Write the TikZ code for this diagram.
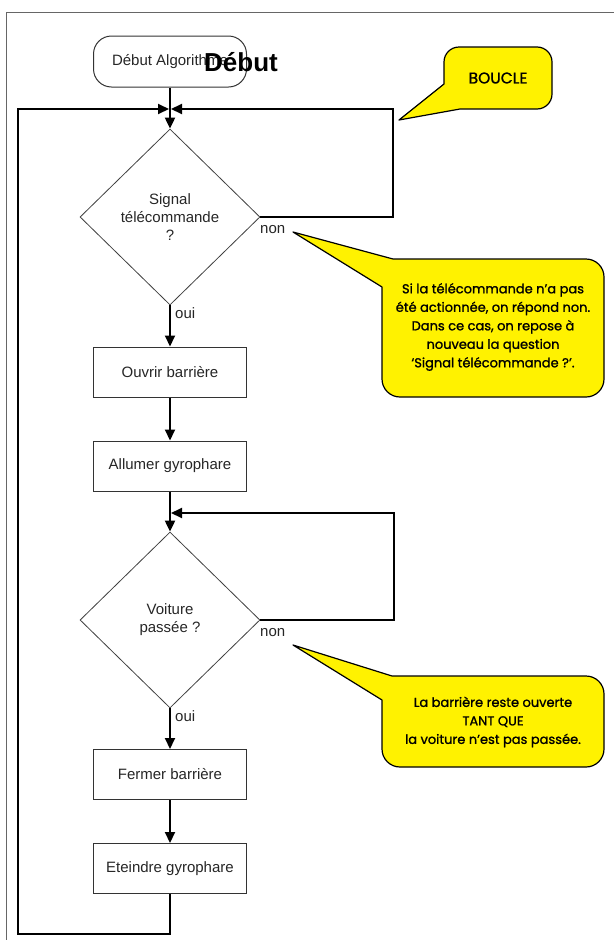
\documentclass[tikz,border=0pt]{standalone}
\usepackage{fontspec}
\setmainfont{Liberation Sans}
\newfontfamily\futura{Poppins}[FakeBold=1.2]
\usetikzlibrary{shapes.geometric,arrows.meta}
\begin{document}
\begin{tikzpicture}[x=1pt,y=-1pt,
  txt/.style={font=\fontsize{15}{18}\selectfont, text=black!85},
  procbox/.style={txt, draw=black!80, line width=1pt, fill=white, minimum width=153pt, minimum height=50pt, inner sep=0pt},
  startbox/.style={txt, draw=black!80, line width=1pt, fill=white, rounded corners=18pt, minimum width=153pt, minimum height=51pt, inner sep=0pt},
  decision/.style={txt, diamond, draw=black!75, line width=0.8pt, minimum width=180pt, minimum height=176pt, inner sep=0pt, align=center},
  conn/.style={line width=2pt, -{Triangle[length=11pt,width=10pt]}},
  bubble/.style={draw=black, line width=1.2pt, fill=yellow, line join=round},
  bubbletext/.style={font=\futura\fontsize{13}{18.5}\selectfont, align=center},
  lbl/.style={txt, inner sep=0pt}
]
\useasboundingbox (0,0) rectangle (614,940);
% frame
\draw[black!60, line width=0.8pt] (6.7,940) -- (6.7,12) -- (614,12);

% nodes
\node[startbox] (start) at (170,61.5) {Début Algorithme};
\node[font=\bfseries\fontsize{26}{30}\selectfont, inner sep=0pt] (debut) at (241,62) {Début};
\node[decision] (d1) at (170,217) {Signal\\télécommande\\?};
\node[procbox] (ouvrir) at (170,372) {Ouvrir barrière};
\node[procbox] (allumer) at (170,466) {Allumer gyrophare};
\node[decision] (d2) at (170,620) {Voiture\\passée ?};
\node[procbox] (fermer) at (170,774.5) {Fermer barrière};
\node[procbox] (eteindre) at (170,868.5) {Eteindre gyrophare};

\node[lbl, anchor=west] (non1) at (260,230) {non};
\node[lbl, anchor=west] (oui1) at (175,313) {oui};
\node[lbl, anchor=west] (non2) at (260,633) {non};
\node[lbl, anchor=west] (oui2) at (175,716) {oui};

\coordinate (j1) at (170,109);
\coordinate (r1) at (393,109);
\coordinate (bl) at (18,934);
\coordinate (j2) at (170,513);
\coordinate (r2) at (394,513);

% connectors
\draw[conn] (start.south) -- (d1.north);
\draw[conn, shorten >=1pt] (eteindre.south) |- (bl) |- (j1);
\draw[conn, shorten >=1pt] (d1.east) -| (r1) -- (j1);
\draw[conn] (d1.south) -- (ouvrir.north);
\draw[conn] (ouvrir.south) -- (allumer.north);
\draw[conn] (allumer.south) -- (d2.north);
\draw[conn, shorten >=1pt] (d2.east) -| (r2) -- (j2);
\draw[conn] (d2.south) -- (fermer.north);
\draw[conn] (fermer.south) -- (eteindre.north);

% callouts
\draw[bubble] (444,84) [rounded corners=15pt] -- (444,47) -- (552,47) -- (552,109) [sharp corners] -- (460,109) -- (399,120) -- cycle;
\node[bubbletext, font=\futura\fontsize{15.5}{18}\selectfont] (b1) at (498,78) {BOUCLE};

\draw[bubble] (382,287) [rounded corners=18pt] -- (382,397) -- (604,397) -- (604,259) [sharp corners] -- (393,259) -- (293,232) -- cycle;
\node[bubbletext] (b2) at (493,327) {Si la télécommande n’a pas\\été actionnée, on répond non.\\Dans ce cas, on repose à\\nouveau la question\\‘Signal télécommande ?’.};

\draw[bubble] (382,700) [rounded corners=18pt] -- (382,767) -- (604,767) -- (604,676) [sharp corners] -- (392,676) -- (293,645) -- cycle;
\node[bubbletext] (b3) at (493,722) {La barrière reste ouverte\\TANT QUE\\ la voiture n’est pas passée.};
\end{tikzpicture}
\end{document}
